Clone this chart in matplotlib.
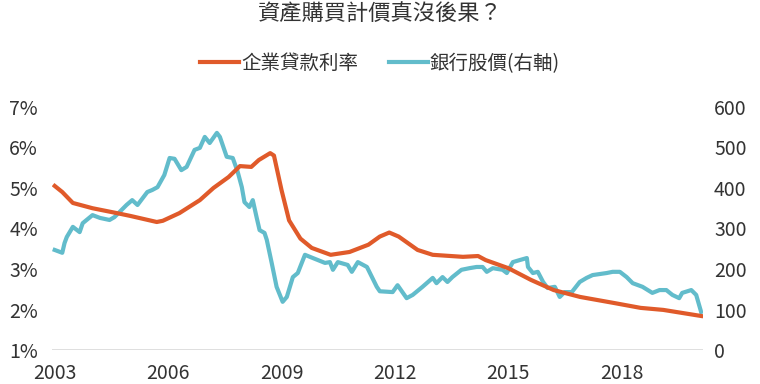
import matplotlib.pyplot as plt

plt.rcParams['font.family'] = ['Noto Sans CJK TC', 'DejaVu Sans']

# 企業貸款利率 (left axis, %)
rate_years = [2003.0, 2003.2, 2003.48, 2004.0, 2004.64, 2005.0, 2005.7, 2005.86, 2006.3,
              2006.84, 2007.2, 2007.6, 2007.9, 2008.2, 2008.4, 2008.7, 2008.8, 2009.0,
              2009.2, 2009.5, 2009.8, 2010.3, 2010.8, 2011.3, 2011.6, 2011.85, 2012.1,
              2012.6, 2013.0, 2013.8, 2014.2, 2014.4, 2015.0, 2015.6, 2016.2, 2016.9,
              2017.8, 2018.5, 2019.1, 2020.1]
rate = [5.05, 4.9, 4.63, 4.5, 4.38, 4.31, 4.16, 4.19, 4.38,
        4.7, 5.0, 5.27, 5.54, 5.52, 5.69, 5.86, 5.8, 4.95,
        4.2, 3.75, 3.52, 3.35, 3.42, 3.6, 3.8, 3.9, 3.8,
        3.47, 3.35, 3.3, 3.32, 3.22, 3.02, 2.73, 2.48, 2.31,
        2.16, 2.04, 1.99, 1.84]

# 銀行股價 (right axis)
bank_years = [2003.0, 2003.2, 2003.26, 2003.32, 2003.48, 2003.66, 2003.74, 2004.0, 2004.2,
              2004.45, 2004.58, 2004.9, 2005.05, 2005.19, 2005.45, 2005.58, 2005.72, 2005.9,
              2006.04, 2006.17, 2006.35, 2006.49, 2006.7, 2006.84, 2006.97, 2007.1, 2007.29,
              2007.37, 2007.55, 2007.71, 2007.84, 2007.95, 2008.02, 2008.15, 2008.24, 2008.34,
              2008.42, 2008.55, 2008.61, 2008.74, 2008.87, 2009.03, 2009.14, 2009.3, 2009.43,
              2009.62, 2009.83, 2010.15, 2010.28, 2010.36, 2010.49, 2010.75, 2010.86, 2011.02,
              2011.26, 2011.52, 2011.6, 2011.94, 2012.07, 2012.31, 2012.47, 2012.73, 2013.0,
              2013.1, 2013.26, 2013.39, 2013.52, 2013.76, 2013.97, 2014.16, 2014.32, 2014.43,
              2014.59, 2014.85, 2014.96, 2015.12, 2015.3, 2015.49, 2015.52, 2015.65, 2015.78,
              2015.92, 2016.04, 2016.23, 2016.36, 2016.49, 2016.68, 2016.89, 2017.07, 2017.23,
              2017.6, 2017.76, 2017.95, 2018.13, 2018.29, 2018.55, 2018.81, 2019.0, 2019.18,
              2019.34, 2019.52, 2019.6, 2019.84, 2019.97, 2020.1]
bank = [247, 240, 264, 279, 304, 291, 313, 333, 326,
        321, 328, 358, 370, 358, 390, 395, 402, 432,
        474, 472, 444, 452, 494, 499, 526, 511, 536,
        526, 477, 474, 440, 402, 365, 353, 370, 328,
        296, 289, 272, 215, 156, 119, 131, 180, 190,
        235, 227, 215, 217, 198, 217, 210, 193, 217,
        205, 156, 145, 143, 160, 128, 136, 156, 178,
        165, 180, 168, 180, 198, 202, 205, 205, 193,
        202, 198, 190, 217, 222, 227, 205, 190, 193,
        168, 153, 156, 131, 143, 143, 168, 178, 185,
        190, 193, 193, 180, 165, 156, 141, 148, 148,
        136, 128, 141, 148, 136, 94]

year_ticks = [2003, 2006, 2009, 2012, 2015, 2018]
left_ticks = [1, 2, 3, 4, 5, 6, 7]
right_ticks = [0, 100, 200, 300, 400, 500, 600]

orange = '#E05A2A'
blue = '#62BCCB'

fig = plt.figure(figsize=(7.6, 3.84), dpi=100)
ax = fig.add_axes([0.068, 0.0885, 0.857, 0.633])
ax2 = ax.twinx()

l2, = ax2.plot(bank_years, bank, color=blue, lw=3, label='銀行股價(右軸)', solid_joinstyle='round')
l1, = ax.plot(rate_years, rate, color=orange, lw=3, label='企業貸款利率', solid_joinstyle='round')
ax.set_zorder(ax2.get_zorder() + 1)
ax.patch.set_visible(False)

ax.set_xlim(2002.92, 2020.15)
ax.set_ylim(1, 7)
ax2.set_ylim(0, 600)
ax.set_yticks(left_ticks)
ax.set_yticklabels([f'{v}%' for v in left_ticks])
ax2.set_yticks(right_ticks)
ax.set_xticks(year_ticks)

for a in (ax, ax2):
    for s in a.spines.values():
        s.set_visible(False)
    a.tick_params(length=0, labelsize=14, colors='#333333')
ax.tick_params(axis='y', pad=10)
ax.tick_params(axis='x', pad=9)
ax2.tick_params(axis='y', pad=8)
ax.axhline(1, color='#D9D9D9', lw=1.2, zorder=0)

fig.text(0.5, 0.965, '資產購買計價真沒後果？', ha='center', va='center', fontsize=16, color='#333333')
fig.legend([l1, l2], ['企業貸款利率', '銀行股價(右軸)'], loc='center', bbox_to_anchor=(0.5, 0.835),
           ncol=2, frameon=False, fontsize=14, handlelength=2.0, columnspacing=1.6,
           handletextpad=0.1, labelcolor='#333333')

fig.savefig('out.png', dpi=100)
